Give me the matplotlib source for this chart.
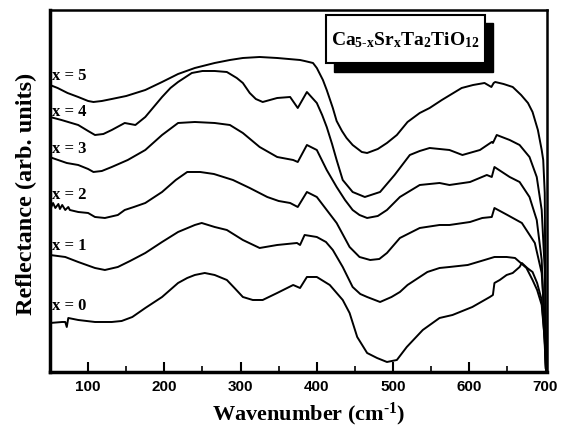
import numpy as np
import matplotlib
matplotlib.use("Agg")
import matplotlib.pyplot as plt
from matplotlib.patches import Rectangle

plt.rcParams['mathtext.fontset'] = 'custom'
plt.rcParams['mathtext.rm'] = 'Liberation Serif:bold'
plt.rcParams['mathtext.bf'] = 'Liberation Serif:bold'
plt.rcParams['mathtext.it'] = 'Liberation Serif:bold'

# ---- data (wavenumber in cm^-1, reflectance in arbitrary units, curves offset) ----
wn5 = [50, 60, 73, 87, 100, 107, 118, 131, 150, 175, 197, 218, 240, 266, 286, 303, 325, 348, 378, 384,
       395, 400, 408, 413, 421, 426, 433, 439, 447, 459, 466, 480, 492, 505, 519, 535, 548, 564, 590, 605,
       620, 629, 632, 634, 645, 657, 668, 677, 683, 690, 695, 697, 699, 700.5]
r5 = [287, 284, 279, 275, 271, 270, 271, 273, 276, 282, 290, 298, 304, 309, 312, 314, 315, 314, 312, 311,
      309, 304, 292, 282, 264, 251, 241, 234, 227, 220, 219, 223, 229, 237, 250, 259, 264, 272, 284, 287,
      289, 285, 289, 290, 288, 285, 277, 269, 260, 242, 222, 212, 179, 4]

wn4 = [50, 65, 87, 100, 109, 120, 131, 148, 162, 175, 186, 197, 208, 218, 236, 250, 266, 282, 295, 303,
       312, 320, 329, 348, 365, 375, 381, 387, 400, 407, 413, 420, 426, 434, 447, 463, 483, 502, 522, 535,
       548, 574, 591, 614, 629.5, 631, 636, 653, 666, 679, 688.5, 695, 699, 701]
r4 = [255, 252, 247, 241, 237, 238, 242, 249, 247, 255, 265, 275, 284, 290, 299, 301, 301, 300, 294, 289,
      279, 273, 270, 274, 275, 264, 272, 280, 269, 257, 245, 228, 212, 192, 180, 175, 180, 197, 217, 221,
      224, 222, 217, 222, 230, 229, 237, 232, 227, 215, 195, 162, 102, 4]

wn3 = [50, 53, 72, 87, 100, 107, 118, 131, 152, 175, 197, 218, 240, 266, 286, 303, 325, 348, 369, 375,
       387, 400, 413, 426, 437, 447, 456, 466, 480, 492, 509, 535, 561, 574, 601, 623, 629.5, 633, 653, 666,
       679, 688.5, 695, 700.5]
r3 = [215, 214, 209, 207, 203, 200, 201, 205, 212, 222, 237, 249, 250, 249, 247, 239, 225, 215, 212, 210,
      227, 222, 202, 185, 172, 162, 157, 154, 156, 162, 175, 187, 189, 187, 190, 197, 195, 205, 195, 190,
      175, 152, 112, 4]

wn2 = [50, 54, 57, 61, 63, 66, 70, 74, 76, 87, 100, 109, 122, 139, 148, 160, 175, 197, 215, 230,
       247, 265, 290, 312, 335, 350, 365, 375, 387, 400, 413, 426, 443, 456, 470, 482, 492, 509, 535, 561,
       574, 601, 617, 629.5, 633, 650, 669, 686, 695, 699, 700.5]
r2 = [162, 169, 164, 168, 163, 167, 162, 165, 162, 160, 159, 155, 154, 157, 162, 165, 169, 180, 192, 200,
      200, 198, 192, 184, 175, 171, 169, 165, 180, 175, 162, 149, 125, 115, 112, 113, 119, 134, 144, 147,
      147, 150, 154, 155, 164, 157, 149, 129, 99, 52, 4]

wn1 = [50, 70, 87, 109, 122, 139, 155, 175, 197, 218, 240, 249, 266, 282, 303, 325, 348, 374, 378, 384,
       400, 412, 421, 434, 447, 457, 466, 483, 498, 509, 519, 535, 545, 561, 574, 598, 620, 633, 649, 660,
       666, 675, 683, 689, 695, 699, 700.5]
r1 = [117, 115, 110, 104, 102, 105, 111, 119, 130, 140, 147, 149, 145, 142, 132, 124, 127, 129, 127, 137,
      135, 130, 122, 105, 85, 78, 75, 70, 75, 80, 87, 95, 100, 104, 105, 107, 112, 115, 115, 114,
      110, 104, 92, 82, 67, 32, 4]

wn0 = [50, 66, 70, 72, 74, 87, 109, 131, 144, 158, 175, 197, 218, 230, 240, 253, 266, 282, 292, 303,
       316, 329, 348, 369, 378, 387, 400, 417, 434, 443, 453, 466, 479, 492, 505, 518, 539, 561, 578, 604,
       627, 631, 633, 640, 649, 657, 666, 669, 676, 683, 689, 695, 698, 700.5]
r0 = [49, 50, 50, 45, 54, 52, 50, 50, 51, 55, 64, 75, 89, 94, 97, 99, 97, 92, 84, 75,
      72, 72, 79, 87, 84, 95, 95, 87, 72, 59, 35, 19, 14, 10, 12, 25, 42, 54, 57, 65,
      75, 77, 89, 92, 97, 99, 105, 109, 104, 100, 89, 72, 42, 4]

series = [(wn5, r5), (wn4, r4), (wn3, r3), (wn2, r2), (wn1, r1), (wn0, r0)]
labels = ["x = 5", "x = 4", "x = 3", "x = 2", "x = 1", "x = 0"]
label_y = [296, 260, 223, 177, 126, 66]

fig = plt.figure(figsize=(5.65, 4.29), dpi=100)
ax = fig.add_axes([0.0885, 0.1329, 0.8797, 0.8438])

for (w, r) in series:
    ax.plot(w, r, color='black', lw=1.4, solid_joinstyle='round')

for lab, ly in zip(labels, label_y):
    ax.text(53, ly, lab, fontsize=12, fontweight='bold', family='Liberation Serif',
            ha='left', va='center')

ax.set_xlim(50, 702)
ax.set_ylim(0, 362)
ax.set_yticks([])
ax.set_xticks([100, 200, 300, 400, 500, 600, 700])
ax.set_xticks([150, 250, 350, 450, 550, 650], minor=True)
ax.tick_params(axis='x', which='major', direction='in', length=7, width=1.5, pad=6)
ax.tick_params(axis='x', which='minor', direction='in', length=4, width=1.2)
for t in ax.get_xticklabels():
    t.set_fontsize(11)
    t.set_fontweight('bold')
    t.set_family('Liberation Sans')

for side in ['left', 'bottom']:
    ax.spines[side].set_linewidth(2.5)
for side in ['top', 'right']:
    ax.spines[side].set_linewidth(1.8)

ax.set_xlabel('Wavenumber (cm$^{\\text{-}1}$)', fontsize=16, fontweight='bold',
              family='Liberation Serif')
ax.xaxis.set_label_coords(0.521, -0.079)
ax.set_ylabel('Reflectance (arb. units)', fontsize=17.5, fontweight='bold',
              family='Liberation Serif')
ax.yaxis.set_label_coords(-0.026, 0.492)

# title box with shadow
shadow = Rectangle((0.571, 0.829), 0.320, 0.135, transform=ax.transAxes,
                   facecolor='black', edgecolor='black', zorder=5, clip_on=False)
box = Rectangle((0.555, 0.854), 0.320, 0.132, transform=ax.transAxes,
                facecolor='white', edgecolor='black', lw=1.5, zorder=6, clip_on=False)
ax.add_patch(shadow)
ax.add_patch(box)
ax.text(0.715, 0.918, r'$\mathrm{Ca_{5\text{-}x}Sr_xTa_2TiO_{12}}$', transform=ax.transAxes,
        fontsize=14, ha='center', va='center', zorder=7)

fig.savefig('out.png', dpi=100)
